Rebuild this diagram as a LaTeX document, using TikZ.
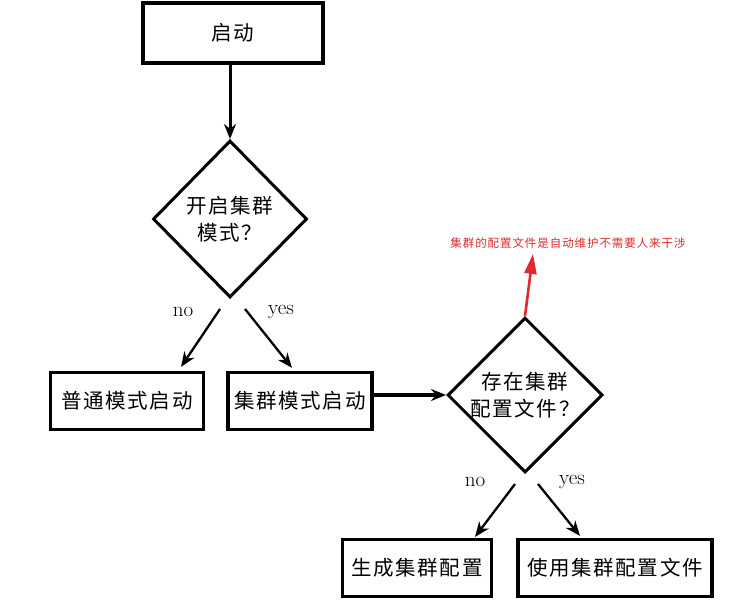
\documentclass[tikz,border=0pt]{standalone}
\usepackage{fontspec}
\newfontfamily\cjk[LetterSpace=8]{Noto Sans CJK SC}
\usetikzlibrary{arrows.meta,positioning,shapes.geometric}
\definecolor{notered}{RGB}{222,44,44}

\begin{document}
\begin{tikzpicture}[x=1pt,y=-1pt,font=\cjk\fontsize{20.5}{27}\selectfont,
 box/.style={draw,line width=3.2pt,inner sep=0pt,align=center,minimum height=57pt},
 choice/.style={draw,diamond,line width=3pt,inner sep=0pt,align=center},
 lbl/.style={font=\normalfont\rmfamily\fontsize{21}{23}\selectfont},
 >={Stealth[length=15pt,width=12pt]}]
\fill[white] (0,0) rectangle (731,605);
\useasboundingbox (0,0) rectangle (731,605);
\node[box,minimum width=180pt,minimum height=60pt] (start) at (233,33) {启动};
\node[choice,minimum width=154pt,minimum height=157pt] (cluster) at (230,219) {开启集群\\模式？};
\node[box,minimum width=153pt] (normal) at (127,401) {普通模式启动};
\node[box,minimum width=144pt] (clustermode) at (300,401) {集群模式启动};
\node[choice,minimum width=155pt,minimum height=150pt] (conf) at (525,395) {存在集群\\配置文件？};
\node[text=notered,font=\cjk\fontsize{11.5}{14}\selectfont] (note) at (568,243) {集群的配置文件是自动维护不需要人来干涉};
\node[box,minimum width=149pt] (gen) at (417,568) {生成集群配置};
\node[box,minimum width=194pt] (use) at (615,568) {使用集群配置文件};
\node[lbl] (no1) at (183,312) {no};
\node[lbl] (yes1) at (281,312) {yes};
\node[lbl] (no2) at (475,482) {no};
\node[lbl] (yes2) at (572,482) {yes};
% connectors
\draw[->,line width=3pt] (start.south -| cluster.north) -- (cluster.north);
\draw[->,line width=2.3pt] ([xshift=-10pt,yshift=-10pt]cluster.south) -- ([xshift=54pt,yshift=4pt]normal.north);
\draw[->,line width=2.3pt] ([xshift=15pt,yshift=-10pt]cluster.south) -- ([xshift=-8pt,yshift=3pt]clustermode.north);
\draw[->,line width=3.4pt] (conf.west -| clustermode.east) -- (conf.west);
\draw[->,line width=2.3pt] ([xshift=-10pt,yshift=-10pt]conf.south) -- ([xshift=58pt,yshift=1pt]gen.north);
\draw[->,line width=2.3pt] ([xshift=13pt,yshift=-10pt]conf.south) -- ([xshift=-35pt,yshift=2pt]use.north);
\draw[notered,line width=2.6pt,-{Triangle[length=20pt,width=12pt]}] (conf.north) -- ([xshift=-35pt,yshift=-2pt]note.south);
\end{tikzpicture}
\end{document}
